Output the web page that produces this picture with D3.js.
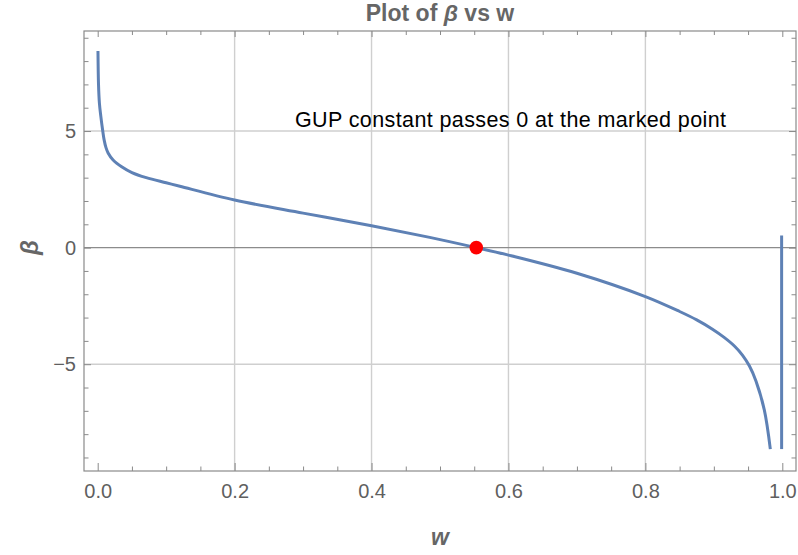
<!DOCTYPE html>
<html><head><meta charset="utf-8">
<script src="https://cdn.jsdelivr.net/npm/d3@7"></script>
<style>body{margin:0;background:#fff}svg{display:block}</style>
</head><body>
<svg id="c" width="798" height="555"></svg>
<script>
const wVals = [0.0004, 0.0012, 0.0025, 0.0045, 0.0074, 0.0094, 0.012, 0.0152, 0.0225, 0.035, 0.05, 0.071, 0.1, 0.12, 0.2, 0.3, 0.4, 0.485, 0.553, 0.6, 0.7, 0.8, 0.85, 0.875, 0.898, 0.915, 0.93, 0.942, 0.952, 0.9615, 0.9737, 0.9825];
const betaVals = [8.43, 7.0, 6.2, 5.65, 5.0, 4.62, 4.3, 4.06, 3.76, 3.47, 3.22, 3.0, 2.78, 2.63, 2.04, 1.48, 0.94, 0.44, 0.0, -0.32, -1.10, -2.10, -2.74, -3.1, -3.5, -3.85, -4.22, -4.62, -5.08, -5.72, -6.96, -8.64];
const jumpW = [0.999, 0.999];
const jumpBeta = [0.52, -8.64];
const markW = [0.553];
const markBeta = [0];
const xMajor = [0, 0.2, 0.4, 0.6, 0.8, 1.0];
const xMajorLabels = ["0.0", "0.2", "0.4", "0.6", "0.8", "1.0"];
const yMajor = [-5, 0, 5];
const yMajorLabels = ["\u22125", "0", "5"];
const xGrid = [0.2, 0.4, 0.6, 0.8];
const yGrid = [-5, 5];
const titleText = "Plot of ";
const annotation = "GUP constant passes 0 at the marked point";

const L = 84, R = 796, T = 31, B = 471;
const x = d3.scaleLinear().domain([-0.02, 1.02]).range([L, R]);
const y = d3.scaleLinear().domain([-9.58, 9.29]).range([B, T]);
const svg = d3.select("#c");

const frameCol = "#8a8a8a", labCol = "#5f5f5f";
const font = "Liberation Sans, Arial, Helvetica, sans-serif";

// gridlines
svg.append("g").selectAll("line").data(xGrid).join("line")
  .attr("x1", d => x(d)).attr("x2", d => x(d)).attr("y1", T).attr("y2", B)
  .attr("stroke", "#cfcfcf").attr("stroke-width", 1.4);
svg.append("g").selectAll("line").data(yGrid).join("line")
  .attr("x1", L).attr("x2", R).attr("y1", d => y(d)).attr("y2", d => y(d))
  .attr("stroke", "#cfcfcf").attr("stroke-width", 1.4);
// zero axis
svg.append("line").attr("x1", L).attr("x2", R).attr("y1", y(0)).attr("y2", y(0))
  .attr("stroke", "#8c8c8c").attr("stroke-width", 1.3);

const xMinor = d3.range(0, 1.0001, 0.05).filter(v => !xMajor.some(m => Math.abs(m - v) < 1e-9));
const yMinor = d3.range(-9, 9.0001, 1).filter(v => !yMajor.includes(v));

function styleAxis(g) {
  g.select(".domain").remove();
  g.selectAll(".tick line").attr("stroke", frameCol).attr("stroke-width", 1);
  g.selectAll(".tick text").attr("fill", labCol).attr("font-family", font).attr("font-size", 20);
}
// bottom
svg.append("g").attr("transform", `translate(0,${B})`)
  .call(d3.axisBottom(x).tickValues(xMajor).tickSize(-8).tickPadding(13).tickFormat((d, i) => xMajorLabels[i]))
  .call(styleAxis);
svg.append("g").attr("transform", `translate(0,${B})`)
  .call(d3.axisBottom(x).tickValues(xMinor).tickSize(-4.5).tickFormat(""))
  .call(styleAxis);
// top
svg.append("g").attr("transform", `translate(0,${T})`)
  .call(d3.axisTop(x).tickValues(xMajor).tickSize(-6).tickFormat(""))
  .call(styleAxis);
svg.append("g").attr("transform", `translate(0,${T})`)
  .call(d3.axisTop(x).tickValues(xMinor).tickSize(-4).tickFormat(""))
  .call(styleAxis);
// left
svg.append("g").attr("transform", `translate(${L},0)`)
  .call(d3.axisLeft(y).tickValues(yMajor).tickSize(-7).tickPadding(8).tickFormat((d, i) => yMajorLabels[i]))
  .call(styleAxis);
svg.append("g").attr("transform", `translate(${L},0)`)
  .call(d3.axisLeft(y).tickValues(yMinor).tickSize(-4.5).tickFormat(""))
  .call(styleAxis);
// right
svg.append("g").attr("transform", `translate(${R},0)`)
  .call(d3.axisRight(y).tickValues(yMajor).tickSize(-7).tickFormat(""))
  .call(styleAxis);
svg.append("g").attr("transform", `translate(${R},0)`)
  .call(d3.axisRight(y).tickValues(yMinor).tickSize(-4.5).tickFormat(""))
  .call(styleAxis);

// frame
svg.append("rect").attr("x", L).attr("y", T).attr("width", R - L).attr("height", B - T)
  .attr("fill", "none").attr("stroke", frameCol).attr("stroke-width", 1.2);

// curve
const line = d3.line().x(d => x(d[0])).y(d => y(d[1])).curve(d3.curveCatmullRom.alpha(0.5));
svg.append("path").datum(wVals.map((w, i) => [w, betaVals[i]]))
  .attr("d", line).attr("fill", "none").attr("stroke", "#5e81b5").attr("stroke-width", 3);
svg.append("path").datum(jumpW.map((w, i) => [w, jumpBeta[i]]))
  .attr("d", d3.line().x(d => x(d[0])).y(d => y(d[1]))).attr("fill", "none")
  .attr("stroke", "#5e81b5").attr("stroke-width", 3);

// marked point
svg.append("g").selectAll("circle").data(markW).join("circle")
  .attr("cx", d => x(d)).attr("cy", (d, i) => y(markBeta[i])).attr("r", 6.8).attr("fill", "#ff0000");

// annotation
svg.append("text").attr("x", 295).attr("y", 127).attr("font-family", font).attr("font-size", 21.5)
  .attr("fill", "#000").attr("textLength", 431).attr("lengthAdjust", "spacing").text(annotation);

// title
const t = svg.append("text").attr("x", (L + R) / 2).attr("y", 21).attr("text-anchor", "middle")
  .attr("font-family", font).attr("font-size", 23).attr("font-weight", "bold").attr("fill", "#666");
t.append("tspan").text(titleText);
t.append("tspan").attr("font-style", "italic").text("\u03b2");
t.append("tspan").text(" vs w");

// axis labels
svg.append("text").attr("x", (L + R) / 2).attr("y", 545).attr("text-anchor", "middle")
  .attr("font-family", font).attr("font-size", 23).attr("font-weight", "bold").attr("font-style", "italic")
  .attr("fill", "#666").text("w");
svg.append("text").attr("transform", `translate(38,${y(0)}) rotate(-90)`).attr("text-anchor", "middle")
  .attr("font-family", font).attr("font-size", 24).attr("font-weight", "bold").attr("font-style", "italic")
  .attr("fill", "#666").text("\u03b2");
</script>
</body></html>
